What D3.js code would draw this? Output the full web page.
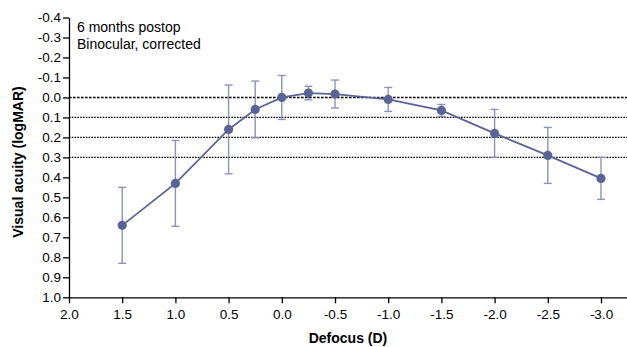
<!DOCTYPE html>
<html>
<head>
<meta charset="utf-8">
<script src="https://cdn.jsdelivr.net/npm/d3@7"></script>
<style>
    body { margin: 0; background: #fff; }
    svg { display: block; font-family: Arial, "Liberation Sans", sans-serif; }
    .tick text { font-size: 13.5px; fill: #000; }
    .axis path, .axis line { stroke: #000; stroke-width: 1.3; }
    .label { font-weight: bold; font-size: 14px; }
    .note { font-size: 14px; }
</style>
</head>
<body>
<div id="chart"></div>
<script>
// defocus values (D) and mean visual acuity (logMAR) with SD
const defocus = [1.5, 1.0, 0.5, 0.25, 0.0, -0.25, -0.5, -1.0, -1.5, -2.0, -2.5, -3.0]
const acuity = [0.64, 0.43, 0.16, 0.06, 0.00, -0.022, -0.017, 0.01, 0.065, 0.18, 0.29, 0.405]
const acuitySd = [0.19, 0.215, 0.222, 0.142, 0.11, 0.034, 0.07, 0.06, 0.03, 0.12, 0.14, 0.105]

const xTicks = [2.0, 1.5, 1.0, 0.5, 0.0, -0.5, -1.0, -1.5, -2.0, -2.5, -3.0]
const yTicks = [-0.4, -0.3, -0.2, -0.1, 0.0, 0.1, 0.2, 0.3, 0.4, 0.5, 0.6, 0.7, 0.8, 0.9, 1.0]
const refLines = [0.0, 0.1, 0.2, 0.3]
const notes = ["6 months postop", "Binocular, corrected"]

const width = 627, height = 347

const svg = d3.select("#chart").append("svg")
    .attr("width", width)
    .attr("height", height)

const xScale = d3.scaleLinear().domain([2.0, -3.25]).range([69, 627.6])
const yScale = d3.scaleLinear().domain([-0.4, 1.0]).range([17.5, 297.3])

// plain hyphen minus like the original
const fmt = d => d.toFixed(1)

// dotted reference lines
svg.selectAll(".ref")
    .data(refLines)
    .join("line")
    .attr("class", "ref")
    .attr("x1", xScale(2.0))
    .attr("x2", width)
    .attr("y1", d => yScale(d))
    .attr("y2", d => yScale(d))
    .attr("stroke", "#000")
    .attr("stroke-width", d => d === 0 ? 1.5 : 1.3)
    .attr("stroke-dasharray", d => d === 0 ? "2.6,1.4" : "1.6,1.2")

// axes
svg.append("g")
    .attr("class", "axis")
    .attr("transform", `translate(0, ${yScale(1.0)})`)
    .call(d3.axisBottom(xScale).tickValues(xTicks).tickFormat(fmt).tickSize(6).tickSizeOuter(0).tickPadding(6))

svg.append("g")
    .attr("class", "axis")
    .attr("transform", `translate(${xScale(2.0)}, 0)`)
    .call(d3.axisLeft(yScale).tickValues(yTicks).tickFormat(fmt).tickSize(6).tickSizeOuter(0).tickPadding(2))

// error bars
const pts = defocus.map((d, i) => ({x: d, y: acuity[i], sd: acuitySd[i]}))
const barColor = "#8d92ba"
const cap = 4

svg.selectAll(".err")
    .data(pts)
    .join("line")
    .attr("class", "err")
    .attr("x1", d => xScale(d.x))
    .attr("x2", d => xScale(d.x))
    .attr("y1", d => yScale(d.y - d.sd))
    .attr("y2", d => yScale(d.y + d.sd))
    .attr("stroke", barColor)
    .attr("stroke-width", 1.4)

svg.selectAll(".capTop")
    .data(pts)
    .join("line")
    .attr("class", "capTop")
    .attr("x1", d => xScale(d.x) - cap)
    .attr("x2", d => xScale(d.x) + cap)
    .attr("y1", d => yScale(d.y - d.sd))
    .attr("y2", d => yScale(d.y - d.sd))
    .attr("stroke", barColor)
    .attr("stroke-width", 1.4)

svg.selectAll(".capBot")
    .data(pts)
    .join("line")
    .attr("class", "capBot")
    .attr("x1", d => xScale(d.x) - cap)
    .attr("x2", d => xScale(d.x) + cap)
    .attr("y1", d => yScale(d.y + d.sd))
    .attr("y2", d => yScale(d.y + d.sd))
    .attr("stroke", barColor)
    .attr("stroke-width", 1.4)

// mean line and markers
const line = d3.line()
    .x(d => xScale(d.x))
    .y(d => yScale(d.y))

svg.append("path")
    .datum(pts)
    .attr("d", line)
    .attr("fill", "none")
    .attr("stroke", "#5a6396")
    .attr("stroke-width", 1.8)

svg.selectAll(".dot")
    .data(pts)
    .join("circle")
    .attr("class", "dot")
    .attr("cx", d => xScale(d.x))
    .attr("cy", d => yScale(d.y))
    .attr("r", 4.6)
    .attr("fill", "#5a6396")

// labels
svg.append("text")
    .attr("class", "label")
    .attr("text-anchor", "middle")
    .attr("x", (xScale(2.0) + width) / 2)
    .attr("y", 343)
    .text("Defocus (D)")

svg.append("text")
    .attr("class", "label")
    .attr("text-anchor", "middle")
    .attr("transform", `translate(23, 162) rotate(-90)`)
    .text("Visual acuity (logMAR)")

svg.selectAll(".note")
    .data(notes)
    .join("text")
    .attr("class", "note")
    .attr("x", 77)
    .attr("y", (d, i) => 32 + i * 16.5)
    .text(d => d)
</script>
</body>
</html>
